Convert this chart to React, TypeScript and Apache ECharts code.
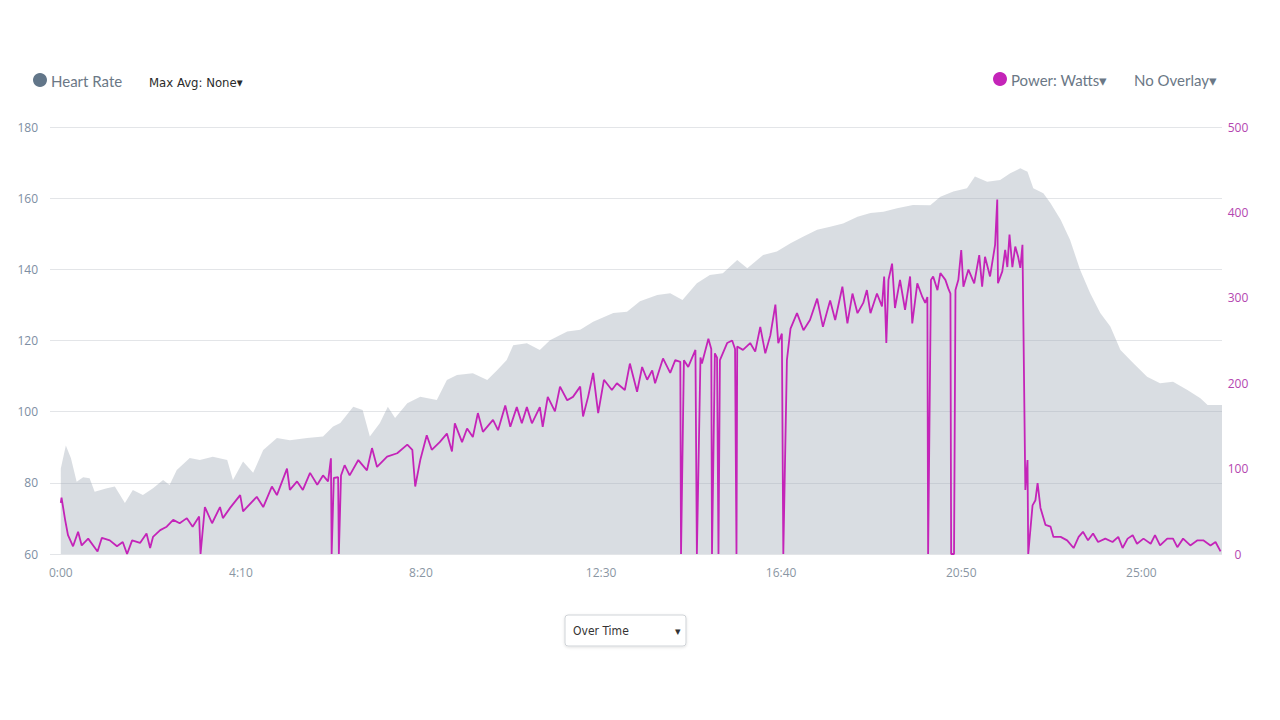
import React, { useEffect, useRef } from "react";
import * as echarts from "echarts";

// Heart rate (bpm) sampled at elapsed seconds
const hrTime = [0, 7, 14, 22, 31, 40, 47, 64, 75, 89, 100, 114, 128, 142, 151, 161, 179, 193, 211, 231, 239, 253, 267, 281, 300, 318, 342, 364, 378, 388, 406, 419, 429, 443, 454, 464, 481, 499, 522, 536, 550, 572, 592, 606, 619, 628, 647, 665, 679, 703, 721, 739, 767, 786, 804, 828, 846, 863, 883, 901, 919, 939, 953, 975, 994, 1013, 1031, 1050, 1068, 1086, 1106, 1124, 1142, 1161, 1183, 1207, 1221, 1239, 1258, 1269, 1286, 1304, 1318, 1332, 1342, 1350, 1364, 1374, 1388, 1401, 1415, 1429, 1443, 1457, 1471, 1489, 1508, 1526, 1544, 1564, 1582, 1592, 1612];
const hrBpm = [84, 90.5, 87, 80.3, 81.6, 81.3, 77.5, 78.5, 79, 74.3, 78, 76.6, 78.5, 80.8, 79.4, 83.6, 87, 86.4, 87.3, 86.4, 80.8, 86, 82.8, 89.2, 92.6, 92, 92.6, 93, 95.8, 96.8, 101.4, 100.5, 93, 96.8, 101.4, 98.2, 102.4, 104.2, 103.3, 108.9, 110.3, 110.8, 108.9, 111.7, 114.5, 118.7, 119.2, 117.3, 120.1, 122.5, 123, 125.3, 127.7, 128.1, 131, 132.8, 133.3, 131.4, 136.1, 138.4, 138.9, 142.6, 140.3, 144, 145, 147.3, 149.2, 151.1, 152, 152.9, 154.8, 155.8, 156.2, 157.2, 158.1, 158, 160.4, 161.9, 162.8, 166.1, 164.6, 165.1, 167, 168.4, 167.4, 162.8, 161.4, 158.6, 153.9, 148.3, 139.9, 133.3, 127.7, 123.9, 117.3, 113.6, 109.8, 108, 108.4, 106.1, 103.8, 101.9, 101.9];

// Power (watts) sampled at elapsed seconds
const powerTime = [0, 1, 6, 10, 17, 24, 29, 38, 51, 57, 68, 78, 86, 92, 99, 110, 119, 124, 128, 138, 147, 156, 165, 175, 183, 192, 194, 200, 210, 221, 225, 235, 249, 253, 272, 281, 293, 300, 314, 318, 328, 336, 346, 356, 364, 371, 375, 376, 379, 385, 386, 389, 394, 401, 413, 425, 432, 439, 453, 467, 481, 488, 492, 499, 508, 515, 526, 536, 543, 547, 557, 564, 572, 579, 586, 600, 607, 617, 624, 633, 640, 647, 654, 665, 669, 676, 686, 693, 703, 711, 721, 725, 732, 739, 746, 754, 765, 772, 783, 790, 800, 807, 814, 821, 825, 836, 846, 853, 860, 861, 865, 871, 881, 883, 888, 890, 899, 903, 904, 908, 911, 913, 915, 925, 932, 936, 938, 939, 947, 957, 964, 971, 978, 985, 992, 996, 1001, 1003, 1008, 1013, 1022, 1031, 1040, 1050, 1058, 1068, 1075, 1085, 1092, 1099, 1106, 1114, 1119, 1124, 1133, 1140, 1143, 1146, 1149, 1154, 1158, 1165, 1172, 1179, 1182, 1189, 1196, 1200, 1203, 1204, 1208, 1211, 1217, 1221, 1228, 1232, 1235, 1236, 1240, 1242, 1246, 1250, 1253, 1260, 1268, 1275, 1279, 1283, 1290, 1297, 1300, 1301, 1307, 1311, 1314, 1317, 1321, 1325, 1329, 1332, 1335, 1339, 1342, 1343, 1349, 1353, 1356, 1360, 1367, 1374, 1378, 1388, 1397, 1406, 1413, 1419, 1426, 1433, 1440, 1450, 1460, 1468, 1474, 1481, 1488, 1494, 1503, 1513, 1519, 1526, 1536, 1544, 1550, 1558, 1568, 1578, 1586, 1596, 1603, 1610];
const powerWatts = [60, 66, 40, 22, 9, 26, 10, 18, 3, 19, 16, 9, 14, 0, 16, 13, 24, 7, 20, 28, 32, 40, 36, 42, 32, 44, 0, 55, 36, 55, 42, 54, 69, 50, 67, 55, 79, 69, 100, 75, 85, 75, 95, 81, 92, 85, 112, 0, 89, 90, 0, 92, 104, 92, 110, 98, 124, 102, 114, 118, 128, 122, 79, 110, 139, 122, 131, 141, 120, 153, 131, 147, 137, 165, 143, 157, 145, 174, 149, 172, 153, 172, 153, 172, 149, 184, 167, 196, 180, 184, 196, 161, 184, 212, 165, 204, 192, 200, 192, 223, 190, 219, 204, 215, 200, 229, 212, 227, 225, 0, 227, 219, 239, 0, 230, 223, 252, 240, 0, 235, 230, 0, 227, 247, 250, 240, 0, 243, 239, 247, 237, 266, 235, 256, 292, 247, 258, 0, 227, 264, 282, 262, 274, 299, 266, 297, 274, 313, 270, 305, 282, 294, 309, 282, 305, 290, 325, 247, 321, 340, 288, 321, 286, 325, 270, 317, 301, 294, 301, 0, 321, 325, 309, 329, 321, 311, 305, 0, 0, 309, 321, 356, 313, 333, 317, 350, 313, 348, 325, 362, 415, 317, 331, 356, 336, 374, 336, 360, 348, 335, 362, 75, 110, 0, 57, 63, 83, 54, 34, 32, 20, 20, 16, 7, 20, 26, 16, 24, 14, 18, 14, 20, 7, 18, 22, 12, 18, 12, 22, 10, 18, 18, 8, 18, 10, 16, 16, 10, 14, 3];

// Tick labels
const hrTicks = [60, 80, 100, 120, 140, 160, 180];
const powerTicks = [0, 100, 200, 300, 400, 500];
const timeTicks = [0, 250, 500, 750, 1000, 1250, 1500];

const fmtTime = (s: number) => {
  const m = Math.floor(s / 60);
  const sec = Math.round(s - m * 60);
  return `${m}:${sec < 10 ? "0" : ""}${sec}`;
};

const FONT = "'Open Sans', 'Noto Sans', sans-serif";
const LEG = "Lato, 'Open Sans', sans-serif";
const NARROW = "'Liberation Sans Narrow', 'DejaVu Sans Condensed', Lato, sans-serif";

export default function App() {
  const ref = useRef<HTMLDivElement>(null);

  useEffect(() => {
    if (!ref.current) return;
    const chart = echarts.init(ref.current, undefined, { renderer: "svg" });
    const hrData = hrTime.map((t, i) => [t, hrBpm[i]]);
    const pwData = powerTime.map((t, i) => [t, powerWatts[i]]);

    chart.setOption({
      animation: false,
      backgroundColor: "#ffffff",
      textStyle: { fontFamily: FONT },
      grid: { left: 50, right: 58, top: 127, bottom: 166, containLabel: false },
      xAxis: {
        type: "value",
        min: -15,
        max: 1612,
        axisLine: { show: false },
        axisTick: { show: false },
        splitLine: { show: false },
        axisLabel: {
          customValues: timeTicks,
          formatter: (v: number) => fmtTime(v),
          color: "#8a96a3",
          fontSize: 12,
          margin: 12,
          fontFamily: FONT,
        },
      },
      yAxis: [
        {
          type: "value",
          min: 60,
          max: 180,
          interval: 20,
          position: "left",
          axisLine: { show: false },
          axisTick: { show: false },
          axisLabel: {
            color: "#7d8ea3",
            fontSize: 12,
            margin: 12,
            fontFamily: FONT,
            customValues: hrTicks,
          },
          splitLine: { show: true, lineStyle: { color: "#e3e5e8", width: 1 } },
        },
        {
          type: "value",
          min: 0,
          max: 500,
          interval: 100,
          position: "right",
          axisLine: { show: false },
          axisTick: { show: false },
          axisLabel: {
            color: "#b446b0",
            fontSize: 12,
            margin: 16,
            align: "center",
            fontFamily: FONT,
            customValues: powerTicks,
          },
          splitLine: { show: false },
        },
      ],
      series: [
        {
          name: "Heart Rate",
          type: "line",
          yAxisIndex: 0,
          data: hrData,
          showSymbol: false,
          symbol: "none",
          lineStyle: { width: 0, color: "#a0aab6" },
          areaStyle: { color: "rgb(160,170,182)", opacity: 0.4, origin: "start" },
          z: 1,
        },
        {
          name: "Power: Watts",
          type: "line",
          yAxisIndex: 1,
          data: pwData,
          showSymbol: false,
          symbol: "none",
          lineStyle: { width: 1.8, color: "#c424b8" },
          z: 3,
        },
      ],
      graphic: [
        { type: "circle", shape: { cx: 40, cy: 80, r: 7 }, style: { fill: "#627689" } },
        {
          type: "text",
          x: 51,
          y: 81,
          style: { text: "Heart Rate", fill: "#6b7886", font: `15px ${LEG}`, textVerticalAlign: "middle" },
        },
        {
          type: "text",
          x: 149,
          y: 82,
          style: { text: "Max Avg: None▾", fill: "#2b2b2b", font: `13px ${NARROW}`, textVerticalAlign: "middle" },
        },
        { type: "circle", shape: { cx: 1000, cy: 79, r: 7 }, style: { fill: "#c424b8" } },
        {
          type: "text",
          x: 1011,
          y: 80,
          style: { text: "Power: Watts▾", fill: "#6b7886", font: `15px ${LEG}`, textVerticalAlign: "middle" },
        },
        {
          type: "text",
          x: 1134,
          y: 80,
          style: { text: "No Overlay▾", fill: "#6b7886", font: `15px ${LEG}`, textVerticalAlign: "middle" },
        },
        {
          type: "rect",
          shape: { x: 565, y: 615, width: 121, height: 31, r: 3 },
          style: {
            fill: "#ffffff",
            stroke: "#cfd3d7",
            lineWidth: 1,
            shadowBlur: 3,
            shadowColor: "rgba(0,0,0,0.12)",
            shadowOffsetY: 1,
          },
        },
        {
          type: "text",
          x: 573,
          y: 631,
          style: { text: "Over Time", fill: "#333333", font: `12px ${NARROW}`, textVerticalAlign: "middle" },
        },
        {
          type: "text",
          x: 675,
          y: 630,
          style: { text: "▾", fill: "#333333", font: `11px ${FONT}`, textVerticalAlign: "middle" },
        },
      ],
    });
    return () => chart.dispose();
  }, []);

  return (
    <div
      ref={ref}
      style={{ position: "fixed", left: 0, top: 0, width: 1280, height: 720, background: "#fff" }}
    />
  );
}
